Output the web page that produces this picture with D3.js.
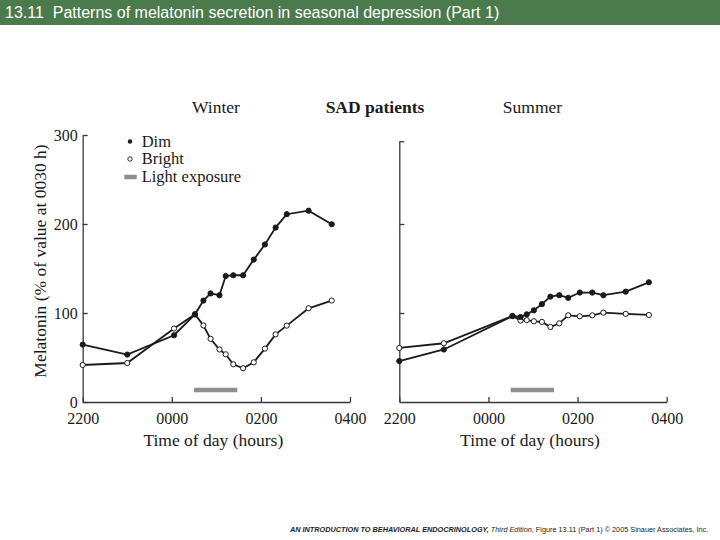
<!DOCTYPE html>
<html>
<head>
<meta charset="utf-8">
<script src="https://cdn.jsdelivr.net/npm/d3@7"></script>
<style>
  body { margin: 0; background: #fff; }
  svg { display: block; }
  .serif { font-family: "Liberation Serif", "Times New Roman", serif; }
  .axis path, .axis line { stroke: #3a3a3a; stroke-width: 1.3; }
  .axis text { font-family: "Liberation Serif", "Times New Roman", serif; font-size: 16px; fill: #1a1a1a; }
</style>
</head>
<body>
<div id="chart"></div>
<script>
// hours after 22:00
const timeTicks = [0, 2, 4, 6];
const timeTickLabels = ["2200", "0000", "0200", "0400"];
const melatoninTicks = [0, 100, 200, 300];

const winterTimes = [0, 1, 2.05, 2.52, 2.71, 2.87, 3.07, 3.21, 3.38, 3.6, 3.84, 4.09, 4.33, 4.58, 5.07, 5.59];
const winterDim = [64.5, 53.3, 75, 98.5, 114, 122, 120, 141.6, 142.4, 142.4, 160, 177, 196, 211, 215, 199.7];
const winterBright = [41.6, 43.8, 82.5, 98.5, 86, 71, 59, 53.6, 42.4, 37.9, 44.6, 60, 76, 85.8, 105.3, 114];

const summerTimes = [0, 1, 2.54, 2.72, 2.86, 3.02, 3.2, 3.39, 3.59, 3.79, 4.05, 4.33, 4.58, 5.08, 5.6];
const summerDim = [46, 59, 96.6, 95.5, 98.5, 103, 110, 118.4, 120, 117, 123, 123, 120, 124, 134.5];
const summerBright = [60.7, 66, 96.6, 91.5, 92, 90.7, 90, 84.3, 88.4, 97.4, 96.3, 97.4, 100.4, 99, 97.8];

// light exposure window (hours after 22:00) and bar level
const lightExposure = [2.5, 3.47];
const lightLevel = 13.5;

const legendLabels = ["Dim", "Bright", "Light exposure"];

const width = 720;
const height = 540;

const svg = d3
  .select("#chart")
  .append("svg")
  .attr("width", width)
  .attr("height", height);

svg.append("rect").attr("width", width).attr("height", height).attr("fill", "#fff");

// header bar
svg.append("rect").attr("width", width).attr("height", 25).attr("fill", "#4b7a4c");
svg
  .append("text")
  .attr("x", 5)
  .attr("y", 18)
  .attr("xml:space", "preserve")
  .style("font-family", "'Liberation Sans', Arial, sans-serif")
  .style("font-size", "16px")
  .attr("fill", "#fff")
  .text("13.11  Patterns of melatonin secretion in seasonal depression (Part 1)");

const baseY = 402;
const unit = 0.89; // px per % unit

function drawPanel(x0, x1, yMax, times, dim, bright, showYLabels) {
  const x = d3.scaleLinear().domain([0, 6]).range([x0, x1]);
  const y = d3.scaleLinear().domain([0, yMax]).range([baseY, baseY - yMax * unit]);

  const g = svg.append("g");

  g.append("g")
    .attr("class", "axis")
    .attr("transform", `translate(0,${baseY})`)
    .call(
      d3.axisBottom(x)
        .tickValues(timeTicks)
        .tickFormat((d, i) => timeTickLabels[i])
        .tickSize(-5)
        .tickSizeOuter(0)
        .tickPadding(10.5)
    );

  const yTicks = showYLabels ? melatoninTicks : [100, 200, yMax];
  g.append("g")
    .attr("class", "axis")
    .attr("transform", `translate(${x0},0)`)
    .call(
      d3.axisLeft(y)
        .tickValues(yTicks)
        .tickFormat(showYLabels ? d3.format("d") : "")
        .tickSize(-5)
        .tickSizeOuter(0)
        .tickPadding(5)
    );

  g.append("line")
    .attr("x1", x(lightExposure[0]))
    .attr("x2", x(lightExposure[1]))
    .attr("y1", y(lightLevel))
    .attr("y2", y(lightLevel))
    .attr("stroke", "#8e8e8e")
    .attr("stroke-width", 4.5);

  const line = d3
    .line()
    .x((d) => x(d[0]))
    .y((d) => y(d[1]));

  const series = [
    { values: d3.zip(times, bright), fill: "#fff" },
    { values: d3.zip(times, dim), fill: "#1a1a1a" },
  ];

  series.forEach((s) => {
    g.append("path")
      .datum(s.values)
      .attr("fill", "none")
      .attr("stroke", "#1a1a1a")
      .attr("stroke-width", 1.8)
      .attr("d", line);
  });

  series.forEach((s) => {
    g.selectAll(null)
      .data(s.values)
      .join("circle")
      .attr("cx", (d) => x(d[0]))
      .attr("cy", (d) => y(d[1]))
      .attr("r", 2.6)
      .attr("fill", s.fill)
      .attr("stroke", "#1a1a1a")
      .attr("stroke-width", 1);
  });

  g.append("text")
    .attr("class", "serif")
    .attr("x", (x0 + x1) / 2 - 3)
    .attr("y", 446)
    .attr("text-anchor", "middle")
    .style("font-size", "17.5px")
    .attr("fill", "#1a1a1a")
    .text("Time of day (hours)");
}

drawPanel(82.7, 350, 300, winterTimes, winterDim, winterBright, true);
drawPanel(399.3, 666.7, 293, summerTimes, summerDim, summerBright, false);

// titles
const titles = [
  { text: "Winter", x: 216, bold: false },
  { text: "SAD patients", x: 375, bold: true },
  { text: "Summer", x: 532.5, bold: false },
];
svg
  .selectAll(".title")
  .data(titles)
  .join("text")
  .attr("class", "serif title")
  .attr("x", (d) => d.x)
  .attr("y", 113)
  .attr("text-anchor", "middle")
  .style("font-size", "17.5px")
  .style("font-weight", (d) => (d.bold ? "bold" : "normal"))
  .attr("fill", "#1a1a1a")
  .text((d) => d.text);

// y label
svg
  .append("text")
  .attr("class", "serif")
  .attr("transform", "translate(46,261) rotate(-90)")
  .attr("text-anchor", "middle")
  .style("font-size", "17.5px")
  .attr("fill", "#1a1a1a")
  .text("Melatonin (% of value at 0030 h)");

// legend
const legend = svg.append("g").attr("class", "serif").style("font-size", "16.5px");
legend.append("circle").attr("cx", 130).attr("cy", 141.5).attr("r", 2.2).attr("fill", "#1a1a1a");
legend
  .append("circle")
  .attr("cx", 130)
  .attr("cy", 159)
  .attr("r", 2.2)
  .attr("fill", "#fff")
  .attr("stroke", "#1a1a1a")
  .attr("stroke-width", 0.9);
legend
  .append("line")
  .attr("x1", 124.3)
  .attr("x2", 136.7)
  .attr("y1", 177)
  .attr("y2", 177)
  .attr("stroke", "#8e8e8e")
  .attr("stroke-width", 4.5);
legendLabels.forEach((t, i) => {
  legend
    .append("text")
    .attr("x", 141.7)
    .attr("y", 146.5 + i * 17.5)
    .attr("fill", "#1a1a1a")
    .text(t);
});

// footer
const footer = svg
  .append("text")
  .attr("x", 290)
  .attr("y", 532)
  .style("font-family", "'Liberation Sans', Arial, sans-serif")
  .style("font-size", "7.3px")
  .attr("fill", "#222");
footer
  .append("tspan")
  .style("font-weight", "bold")
  .style("font-style", "italic")
  .text("AN INTRODUCTION TO BEHAVIORAL ENDOCRINOLOGY, ");
footer.append("tspan").style("font-style", "italic").text("Third Edition");
footer.append("tspan").text(", Figure 13.11 (Part 1) \u00a9 2005 Sinauer Associates, Inc.");
</script>
</body>
</html>
